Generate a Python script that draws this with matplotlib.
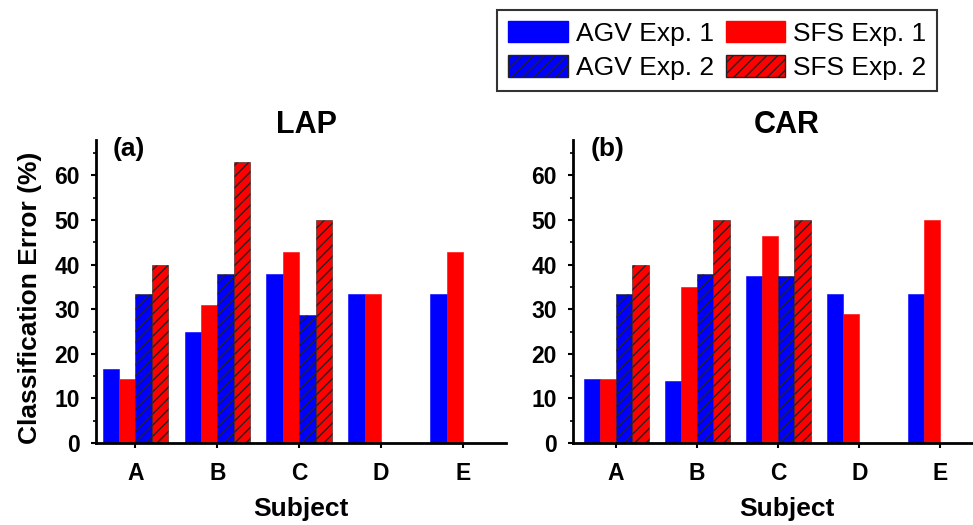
import matplotlib
matplotlib.use("Agg")

import numpy as np
import matplotlib.pyplot as plt
from matplotlib.patches import Patch
from matplotlib.ticker import MultipleLocator

plt.rcParams['font.family'] = ['Liberation Sans', 'DejaVu Sans']
plt.rcParams['hatch.linewidth'] = 1.0

# Data
subjects = ["A", "B", "C", "D", "E"]
series_names = ["AGV Exp. 1", "SFS Exp. 1", "AGV Exp. 2", "SFS Exp. 2"]

lap_agv1 = [16.7, 25.0, 37.8, 33.3, 33.3]
lap_sfs1 = [14.3, 31.0, 42.9, 33.3, 42.9]
lap_agv2 = [33.3, 37.8, 28.6, 0, 0]
lap_sfs2 = [40.0, 62.9, 50.0, 0, 0]

car_agv1 = [14.3, 14.0, 37.5, 33.3, 33.3]
car_sfs1 = [14.3, 35.0, 46.4, 29.0, 50.0]
car_agv2 = [33.3, 37.8, 37.5, 0, 0]
car_sfs2 = [40.0, 50.0, 50.0, 0, 0]

colors = ["#0000ff", "#ff0000", "#0000ff", "#ff0000"]
hatches = [None, None, "///", "///"]

fig = plt.figure(figsize=(9.73, 5.25), dpi=100)
ax1 = fig.add_axes([0.0987, 0.156, 0.421, 0.578])
ax2 = fig.add_axes([0.589, 0.156, 0.44, 0.578])

x = np.arange(len(subjects))
w = 0.2


def draw(ax, data, title, tag, xlim, title_x):
    for i, vals in enumerate(data):
        ax.bar(x + (i - 1.5) * w, vals, w, color=colors[i],
               hatch=hatches[i], edgecolor="#222222" if hatches[i] else colors[i],
               linewidth=0.4)
    ax.set_xlim(*xlim)
    ax.set_ylim(0, 68)
    ax.set_xticks(x)
    ax.set_xticklabels(subjects, fontsize=16.5, fontweight="bold")
    ax.yaxis.set_major_locator(MultipleLocator(10))
    ax.yaxis.set_minor_locator(MultipleLocator(5))
    for lab in ax.get_yticklabels():
        lab.set_fontweight("bold")
        lab.set_fontsize(16.5)
    ax.tick_params(axis="x", which="major", length=3.6, width=1.5, pad=10)
    ax.tick_params(axis="y", which="major", length=3.6, width=1.5, pad=8)
    ax.tick_params(axis="y", which="minor", length=2.2, width=1.2)
    for s in ["top", "right"]:
        ax.spines[s].set_visible(False)
    for s in ["left", "bottom"]:
        ax.spines[s].set_linewidth(2)
    ax.set_xlabel("Subject", fontsize=19, fontweight="bold", labelpad=9)
    ax.set_title(title, fontsize=22, fontweight="bold", pad=1, x=title_x)
    ax.text(0.04, 1.01, tag, transform=ax.transAxes, fontsize=19,
            fontweight="bold", va="top", ha="left")


draw(ax1, [lap_agv1, lap_sfs1, lap_agv2, lap_sfs2], "LAP", "(a)", (-0.48, 4.52), 0.513)
draw(ax2, [car_agv1, car_sfs1, car_agv2, car_sfs2], "CAR", "(b)", (-0.53, 4.75), 0.5)
ax1.set_ylabel("Classification Error (%)", fontsize=19, fontweight="bold")
ax1.yaxis.set_label_coords(-0.132, 0.48)

handles = [
    Patch(facecolor="#0000ff", edgecolor="#0000ff", label="AGV Exp. 1"),
    Patch(facecolor="#0000ff", edgecolor="#222222", hatch="///", label="AGV Exp. 2"),
    Patch(facecolor="#ff0000", edgecolor="#ff0000", label="SFS Exp. 1"),
    Patch(facecolor="#ff0000", edgecolor="#222222", hatch="///", label="SFS Exp. 2"),
]
leg = fig.legend(handles=handles, ncol=2, loc="upper left",
                 bbox_to_anchor=(0.511, 0.981), fontsize=19,
                 frameon=True, fancybox=False, edgecolor="black",
                 handlelength=2.25, handleheight=0.87, columnspacing=0.45,
                 handletextpad=0.3, labelspacing=0.35, borderpad=0.42,
                 borderaxespad=0)
leg.get_frame().set_linewidth(1.5)

fig.savefig("out.png", dpi=100)
